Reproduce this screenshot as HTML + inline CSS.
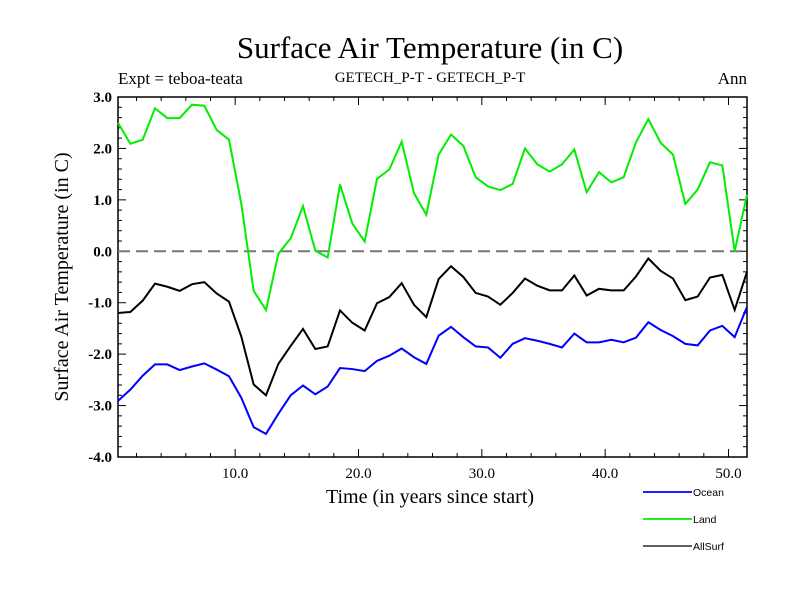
<!DOCTYPE html>
<html><head><meta charset="utf-8"><style>
body{margin:0;background:#fff;}
svg text{font-family:"Liberation Serif",serif;}
svg text.sans{font-family:"Liberation Sans",sans-serif;}
</style></head><body>
<svg id="chart" width="800" height="600" xmlns="http://www.w3.org/2000/svg">
<rect width="800" height="600" fill="#fff"/>
<text x="430" y="58" font-size="31" text-anchor="middle">Surface Air Temperature (in C)</text>
<text x="118" y="84" font-size="17">Expt = teboa-teata</text>
<text x="430" y="82" font-size="15" text-anchor="middle">GETECH_P-T - GETECH_P-T</text>
<text x="747" y="84" font-size="17" text-anchor="end">Ann</text>
<text x="430" y="503" font-size="20" text-anchor="middle">Time (in years since start)</text>
<text transform="translate(68,277) rotate(-90)" font-size="20" text-anchor="middle">Surface Air Temperature (in C)</text>
<g id="axes"></g>
<g id="series"></g>
<g id="legend"></g>
</svg>
<script>
const years = Array.from({length:52},(_,i)=>i+1-0.5);
const ocean = [-2.91,-2.69,-2.42,-2.20,-2.20,-2.31,-2.24,-2.18,-2.30,-2.43,-2.85,-3.42,-3.55,-3.16,-2.80,-2.61,-2.78,-2.63,-2.27,-2.29,-2.33,-2.13,-2.03,-1.89,-2.06,-2.19,-1.64,-1.47,-1.67,-1.85,-1.87,-2.07,-1.80,-1.69,-1.74,-1.80,-1.87,-1.60,-1.77,-1.77,-1.72,-1.77,-1.68,-1.38,-1.53,-1.65,-1.80,-1.83,-1.54,-1.45,-1.67,-1.08];
const land = [2.50,2.09,2.17,2.78,2.59,2.59,2.85,2.83,2.36,2.17,0.92,-0.77,-1.14,-0.05,0.25,0.88,0.01,-0.12,1.30,0.54,0.19,1.41,1.59,2.13,1.13,0.71,1.88,2.27,2.05,1.44,1.26,1.19,1.31,2.00,1.69,1.55,1.69,1.98,1.15,1.54,1.34,1.44,2.12,2.57,2.11,1.88,0.92,1.20,1.73,1.67,0.00,1.10];
const allsurf = [-1.20,-1.18,-0.96,-0.63,-0.69,-0.77,-0.64,-0.60,-0.82,-0.98,-1.66,-2.59,-2.80,-2.19,-1.84,-1.51,-1.90,-1.85,-1.15,-1.39,-1.54,-1.01,-0.89,-0.62,-1.04,-1.28,-0.54,-0.29,-0.50,-0.81,-0.88,-1.04,-0.81,-0.53,-0.67,-0.76,-0.76,-0.47,-0.86,-0.73,-0.76,-0.76,-0.49,-0.14,-0.38,-0.53,-0.95,-0.88,-0.51,-0.46,-1.14,-0.40];
const xTicks = [10,20,30,40,50];
const xTickLabels = ["10.0","20.0","30.0","40.0","50.0"];
const yTicks = [3,2,1,0,-1,-2,-3,-4];
const yTickLabels = ["3.0","2.0","1.0","0.0","-1.0","-2.0","-3.0","-4.0"];
const seriesNames = ["Ocean","Land","AllSurf"];

const L=118,R=747,T=97,B=457, X0=0.5,X1=51.5,Y0=-4,Y1=3;
const xs=v=>L+(v-X0)/(X1-X0)*(R-L);
const ys=v=>B-(v-Y0)/(Y1-Y0)*(B-T);
const NS="http://www.w3.org/2000/svg";
function mk(tag,attrs,parent){const e=document.createElementNS(NS,tag);for(const k in attrs)e.setAttribute(k,attrs[k]);parent.appendChild(e);return e;}
const axes=document.getElementById('axes');
const frame=mk('rect',{x:L,y:T,width:R-L,height:B-T,fill:'none',stroke:'#000','stroke-width':1.5},axes);


for(let v=2;v<=50;v+=2){const x=xs(v);const maj=v%10===0;const len=maj?8:4;
 mk('line',{x1:x,y1:B,x2:x,y2:B-len,stroke:'#000','stroke-width':1},axes);
 mk('line',{x1:x,y1:T,x2:x,y2:T+len,stroke:'#000','stroke-width':1},axes);}
for(let i=0;i<=35;i++){const v=-4+i*0.2;const y=ys(v);const maj=i%5===0;const len=maj?8:4;
 mk('line',{x1:L,y1:y,x2:L+len,y2:y,stroke:'#000','stroke-width':1},axes);
 mk('line',{x1:R,y1:y,x2:R-len,y2:y,stroke:'#000','stroke-width':1},axes);}
xTicks.forEach((v,i)=>{const t=mk('text',{x:xs(v),y:B+21,'font-size':15,'text-anchor':'middle'},axes);t.textContent=xTickLabels[i];
 
 });
yTicks.forEach((v,i)=>{const t=mk('text',{x:L-6,y:ys(v)+5,'font-size':15,'text-anchor':'end','font-weight':'bold'},axes);t.textContent=yTickLabels[i];
 
 });
const zl=mk('line',{x1:L,y1:ys(0),x2:R,y2:ys(0),stroke:'#777','stroke-width':2,'stroke-dasharray':'12,6'},axes);


const sg=document.getElementById('series');
const colors=['#0000ff','#00ee00','#000000'];
[ocean,land,allsurf].forEach((arr,i)=>{
 const p=mk('polyline',{points:arr.map((v,j)=>xs(years[j])+','+ys(v)).join(' '),fill:'none',stroke:colors[i],'stroke-width':2},sg);
 
 
});
const lg=document.getElementById('legend');
[492,519,546].forEach((y,i)=>{
 const l=mk('line',{x1:643,y1:y,x2:692,y2:y,stroke:colors[i],'stroke-width':i===2?1.2:1.8},lg);
 
 
 const t=mk('text',{x:693,y:y+4,'font-size':10.5,'class':'sans'},lg);t.textContent=seriesNames[i];
 
 
});
</script>
</body></html>
